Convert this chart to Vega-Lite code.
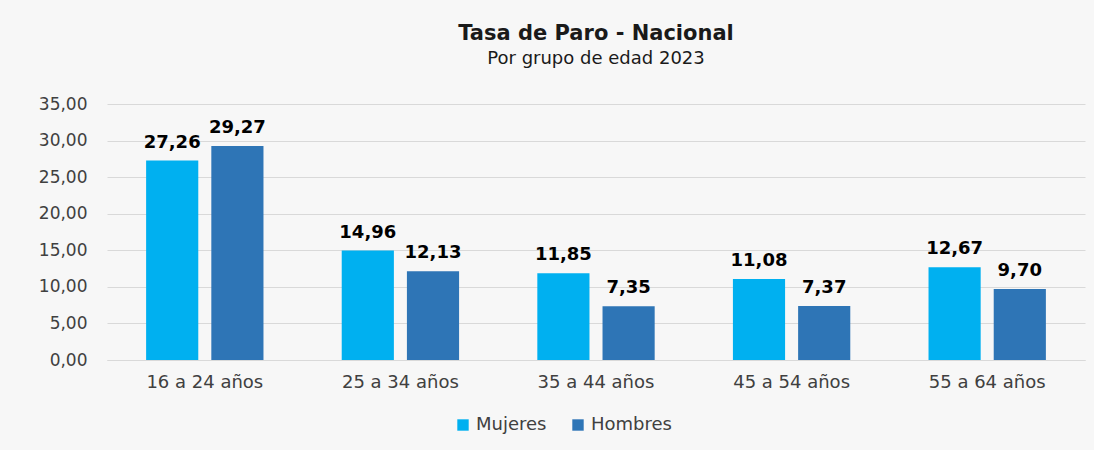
{
  "$schema": "https://vega.github.io/schema/vega-lite/v6.json",
  "autosize": {"type": "none"},
  "width": 978,
  "height": 256,
  "padding": {"left": 107, "top": 104, "right": 9, "bottom": 90},
  "background": "#F7F7F7",
  "config": {
    "locale": {"number": {"decimal": ",", "thousands": ".", "grouping": [3], "currency": ["", " €"]}},
    "view": {"stroke": null},
    "font": "DejaVu Sans"
  },
  "title": {
    "text": "Tasa de Paro - Nacional",
    "subtitle": "Por grupo de edad 2023",
    "font": "DejaVu Sans",
    "fontSize": 21,
    "fontWeight": "bold",
    "color": "#1a1a1a",
    "subtitleFont": "DejaVu Sans",
    "subtitleFontSize": 18,
    "subtitleColor": "#1a1a1a",
    "subtitlePadding": 6,
    "anchor": "middle",
    "offset": 27
  },
  "data": {
    "values": [
      {"grupo": "16 a 24 años", "sexo": "Mujeres", "tasa": 27.26},
      {"grupo": "16 a 24 años", "sexo": "Hombres", "tasa": 29.27},
      {"grupo": "25 a 34 años", "sexo": "Mujeres", "tasa": 14.96},
      {"grupo": "25 a 34 años", "sexo": "Hombres", "tasa": 12.13},
      {"grupo": "35 a 44 años", "sexo": "Mujeres", "tasa": 11.85},
      {"grupo": "35 a 44 años", "sexo": "Hombres", "tasa": 7.35},
      {"grupo": "45 a 54 años", "sexo": "Mujeres", "tasa": 11.08},
      {"grupo": "45 a 54 años", "sexo": "Hombres", "tasa": 7.37},
      {"grupo": "55 a 64 años", "sexo": "Mujeres", "tasa": 12.67},
      {"grupo": "55 a 64 años", "sexo": "Hombres", "tasa": 9.70}
    ]
  },
  "encoding": {
    "x": {
      "field": "grupo", "type": "nominal", "sort": null, "title": null,
      "scale": {"paddingInner": 0, "paddingOuter": 0},
      "axis": {"labelAngle": 0, "ticks": false, "domainColor": "#D9D9D9", "labelFontSize": 18, "labelColor": "#404040", "labelPadding": 13, "labelFont": "DejaVu Sans"}
    },
    "xOffset": {
      "field": "sexo", "type": "nominal", "sort": ["Mujeres", "Hombres"],
      "scale": {"paddingInner": 0.2, "paddingOuter": 0.6}
    },
    "y": {
      "field": "tasa", "type": "quantitative", "title": null,
      "scale": {"domain": [0, 35], "nice": false},
      "axis": {"values": [0, 5, 10, 15, 20, 25, 30, 35], "format": ".2f", "ticks": false, "domain": false, "gridColor": "#D9D9D9", "gridWidth": 1, "labelFontSize": 17, "labelColor": "#404040", "labelPadding": 20, "labelFont": "DejaVu Sans"}
    }
  },
  "layer": [
    {
      "mark": {"type": "bar"},
      "encoding": {
        "color": {
          "field": "sexo", "type": "nominal", "sort": ["Mujeres", "Hombres"],
          "scale": {"domain": ["Mujeres", "Hombres"], "range": ["#00B0F0", "#2E75B6"]},
          "legend": {"orient": "none", "legendX": 347, "legendY": 312, "direction": "horizontal", "title": null, "symbolType": "square", "symbolSize": 130, "symbolStrokeWidth": 0, "labelFontSize": 18, "labelColor": "#404040", "labelFont": "DejaVu Sans", "columnPadding": 22}
        }
      }
    },
    {
      "mark": {"type": "text", "baseline": "alphabetic", "dy": -13, "fontSize": 18, "fontWeight": "bold", "font": "DejaVu Sans", "color": "#000000"},
      "encoding": {
        "text": {"field": "tasa", "type": "quantitative", "format": ".2f"}
      }
    }
  ]
}
